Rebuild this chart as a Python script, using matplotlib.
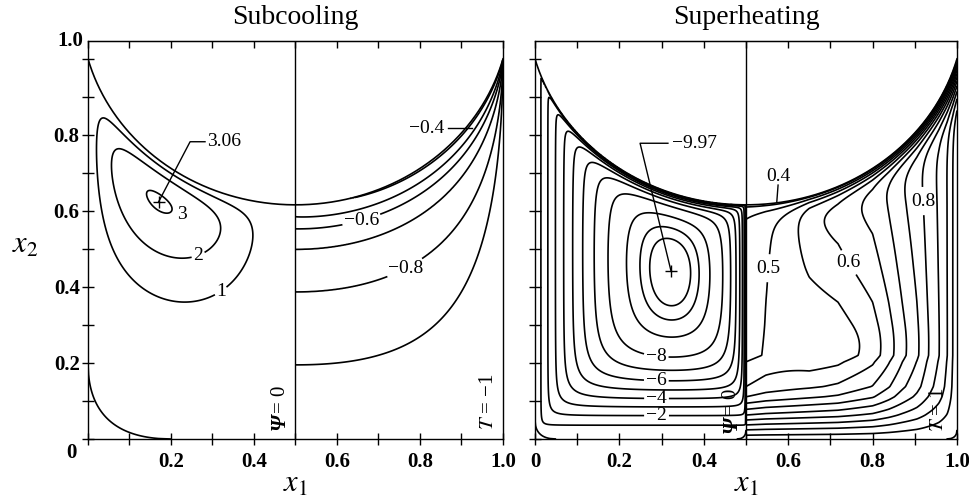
import numpy as np
import matplotlib.pyplot as plt

plt.rcParams['font.family'] = ['Liberation Serif', 'DejaVu Serif']
plt.rcParams['mathtext.fontset'] = 'stix'
plt.rcParams['contour.negative_linestyle'] = 'solid'

titles = ['Subcooling', 'Superheating']
tick_pos = [0.0, 0.1, 0.2, 0.3, 0.4, 0.5, 0.6, 0.7, 0.8, 0.9, 1.0]
x_labels = ['0', '', '0.2', '', '0.4', '', '0.6', '', '0.8', '', '1.0']
y_labels = ['', '', '0.2', '', '0.4', '', '0.6', '', '0.8', '', '']

# free surface: meets both walls at x2 = 1, lowest at mid-width
surf_wall_y = 1.0
surf_mid_y = 0.616
frame_top = 1.047

# subcooling
sub_psi_levels = [1, 2, 3]
sub_psi_max = 3.06
sub_psi_depth = 0.089          # cell centre below the surface
sub_psi_labels = {1: (0.334, 0.366), 2: (0.27, 0.471)}
sub_T_levels = [-0.9, -0.8, -0.7, -0.6, -0.5, -0.4]
sub_T_axis_y = [0.0, 0.195, 0.387, 0.499, 0.553, 0.585, 0.616]   # T along x1 = 0.5
sub_T_axis_val = [-1.0, -0.9, -0.8, -0.7, -0.6, -0.5, -0.45]
sub_T_surf_end = -0.35
sub_T_labels = {-0.6: (0.66, 0.572), -0.8: (0.768, 0.44)}
sub_eddy = (0.2, 0.2)          # separation points on bottom / wall

# superheating
sup_psi_levels = [-9.75, -9.5, -9, -8, -7, -6, -5, -4, -3, -2, -1]
sup_psi_min = -9.97
sup_psi_labels = {-8: (0.288, 0.225), -6: (0.288, 0.173), -4: (0.288, 0.116), -2: (0.288, 0.072)}
sup_T_levels = [0.4, 0.45, 0.5, 0.55, 0.6, 0.65, 0.7, 0.75, 0.8, 0.85, 0.9, 0.95]
sup_T_axis_y = [0.0, 0.01, 0.024, 0.037, 0.05, 0.063, 0.078, 0.094, 0.111, 0.138,
                0.203, 0.22, 0.3, 0.45, 0.616]
sup_T_axis_val = [0.97, 0.95, 0.9, 0.85, 0.8, 0.75, 0.7, 0.65, 0.6, 0.55,
                  0.5, 0.48, 0.476, 0.47, 0.46]
sup_T_mid_y = 0.36             # crossings read along x2 = 0.36
sup_T_mid_val = [0.5, 0.55, 0.6, 0.65, 0.7, 0.75, 0.8, 0.85, 0.9, 0.95]
sup_T_mid_x = [0.547, 0.718, 0.80, 0.838, 0.87, 0.905, 0.93, 0.957, 0.977, 0.99]
sup_T_surface = 0.38
sup_T_labels = {0.5: (0.545, 0.45), 0.6: (0.746, 0.466), 0.8: (0.889, 0.624)}
sup_eddies = [(0.0, 0.05, 0.05), (0.5, 0.022, 0.024), (1.0, 0.025, 0.024)]

cy = (0.25 + surf_wall_y**2 - surf_mid_y**2) / (2 * (surf_wall_y - surf_mid_y))
rad = cy - surf_mid_y


def surface(x):
    return cy - np.sqrt(rad**2 - (x - 0.5)**2)


def depth(x, y):
    return np.sqrt((x - 0.5)**2 + (y - cy)**2) - rad


def sub_psi(x, y):
    d = np.clip(depth(x, y), 0, None)
    f = x**0.8 * np.clip(0.5 - x, 0, None)**1.54
    g = (d / sub_psi_depth * np.exp(1 - d / sub_psi_depth))**0.9
    return f * g


def sub_T(x, y):
    eta = np.clip(y / surface(x), 0, 1)
    xi = np.clip((x - 0.5) / 0.5, 0, 1 - 1e-6)
    phi = (1 - np.sqrt(1 - xi))**2.4
    eta0 = np.clip((eta - phi) / (1 - phi), 0, 1)
    t = np.interp(eta0 * surf_mid_y, sub_T_axis_y, sub_T_axis_val)
    return t + (sub_T_surf_end - sub_T_axis_val[-1]) * np.sqrt(xi) * eta0**30


def sup_psi(x, y):
    a = (np.clip(x, 1e-6, None) / 0.26)**0.9
    b = (np.clip(0.5 - x, 1e-6, None) / 0.1243)**0.45
    c = (np.clip(y, 1e-6, None) / 0.267)**1.32
    e = np.sqrt(np.clip(depth(x, y), 1e-6, None) / 0.06)
    ab = (a**-1.6 + b**-1.6)**(-1 / 1.6)
    return (ab**-2.5 + c**-2.5 + e**-2.5)**(-1 / 2.5)


def sup_T(x, y):
    u = np.clip(1 - x, 0, 0.5)
    xi = 1 - u / 0.5
    tc_mid = np.interp(sup_T_mid_y, sup_T_axis_y, sup_T_axis_val)
    u_tab = np.concatenate([[0], (1 - np.array(sup_T_mid_x))[::-1], [0.5]])
    r_tab = np.concatenate([[0], ((1 - np.array(sup_T_mid_val)) / (1 - tc_mid))[::-1], [1]])
    r = np.interp(u, u_tab, r_tab)
    v = 1 - np.interp(y, sup_T_axis_y, sup_T_axis_val)
    ramp = np.clip((y - 0.1) / 0.2, 0, 1)
    ramp = ramp * ramp * (3 - 2 * ramp)
    tilt = 3.5 * xi * (1 - xi) * np.clip(xi / 0.3, 0, 1)**2
    w = np.exp(-tilt * (y - sup_T_mid_y) * ramp)
    t_in = 1 - r * v * w
    cold = np.exp(-np.clip(depth(x, y), 0, None) / 0.02)
    return t_in + (sup_T_surface - t_in) * cold


def corner(x, y, x0, wx, wy):
    return np.sqrt(np.abs(x - x0) / wx) + np.sqrt(y / wy)


def fmt_num(v):
    return ('%g' % v).replace('-', '\u2212')


lw = 1.2
lab = dict(fontsize=14)


def draw(ax, X, Y, Z, levels, labels):
    plain = [v for v in levels if v not in labels]
    ax.contour(X, Y, Z, levels=sorted(plain), colors='k', linewidths=lw)
    for v, pos in labels.items():
        cs = ax.contour(X, Y, Z, levels=[v], colors='k', linewidths=lw)
        txt = ax.clabel(cs, manual=[pos], inline=True, inline_spacing=2,
                        fmt={cs.levels[0]: fmt_num(v)}, **lab)
        for t in txt:
            t.set_rotation(0)


n = 400
yy = np.linspace(0, 1.0, 2 * n)
XL, YL = np.meshgrid(np.linspace(0, 0.5, n), yy)
XR, YR = np.meshgrid(np.linspace(0.5, 1.0, n), yy)
out_l = YL > surface(XL)
out_r = YR > surface(XR)

fig = plt.figure(figsize=(9.7, 4.98), dpi=100)
ax1 = fig.add_axes([88 / 970, 59 / 498, 415 / 970, 398 / 498])
ax2 = fig.add_axes([535 / 970, 59 / 498, 422 / 970, 398 / 498])

xs = np.linspace(0, 1, 500)
for k, ax in enumerate([ax1, ax2]):
    ax.set_xlim(0, 1)
    ax.set_ylim(0, frame_top)
    ax.plot(xs, surface(xs), color='k', lw=lw)
    ax.axvline(0.5, color='k', lw=1.0)
    ax.set_xticks(tick_pos)
    ax.set_yticks(tick_pos)
    ax.set_xticklabels(x_labels if k == 1 else [''] + x_labels[1:], fontsize=15,
                       fontweight='bold')
    ax.set_yticklabels(y_labels if k == 0 else [], fontsize=15, fontweight='bold')
    ax.tick_params(direction='inout', length=8, width=1, right=False)
    ax.tick_params(axis='x', pad=5)
    ax.tick_params(axis='y', pad=2)
    top = ax.secondary_xaxis('top')
    top.set_xticks(tick_pos)
    top.set_xticklabels([])
    top.tick_params(direction='in', length=5, width=1)
    for sp in ax.spines.values():
        sp.set_linewidth(1.0)
    ax.set_title(titles[k], fontsize=20, pad=12)
    ax.text(0.5, -0.115, '$x_1$', transform=ax.transAxes, fontsize=22,
            ha='center', va='center')

ax1.text(-0.152, 0.487, '$x_2$', transform=ax1.transAxes, fontsize=22,
         ha='center', va='center')
ax1.text(-0.039, -0.037, '0', fontsize=15, fontweight='bold', ha='center', va='center')
ax1.text(-0.012, frame_top, '1.0', fontsize=15, fontweight='bold', ha='right', va='center')

# ---- subcooling ----
P = sub_psi(XL, YL)
P = np.ma.masked_where(out_l, P / P[~out_l].max() * sub_psi_max)
draw(ax1, XL, YL, P, sub_psi_levels, sub_psi_labels)
ax1.text(0.226, 0.59, '3', ha='center', va='center', **lab)
iy, ix = np.unravel_index(np.argmax(P), P.shape)
px, py = XL[iy, ix], YL[iy, ix]
ax1.plot(px, py, marker='+', ms=9, color='k', mew=1)
ax1.plot([px, 0.246, 0.282], [py, 0.782, 0.782], color='k', lw=1)
ax1.text(0.287, 0.782, fmt_num(sub_psi_max), ha='left', va='center', **lab)

E = corner(XL, YL, 0.0, *sub_eddy)
ax1.contour(XL, YL, E, levels=[1], colors='k', linewidths=lw)

T = np.ma.masked_where(out_r, sub_T(XR, YR))
draw(ax1, XR, YR, T, sub_T_levels, sub_T_labels)
ax1.text(0.817, 0.818, '\u22120.4', ha='center', va='center', **lab)
ax1.plot([0.868, 0.925], [0.818, 0.818], color='k', lw=1)

ax1.text(0.463, 0.024, '\u03a8', rotation=90, rotation_mode='anchor', ha='left',
         va='center', fontsize=15, fontweight='bold', fontstyle='italic')
ax1.text(0.463, 0.068, '= 0', rotation=90, rotation_mode='anchor', ha='left',
         va='center', fontsize=15)
ax1.text(0.964, 0.024, '$T$ = \u22121', rotation=90, rotation_mode='anchor',
         ha='left', va='center', fontsize=15)

# ---- superheating ----
Q = sup_psi(XL, YL)
Q = np.ma.masked_where(out_l, Q / Q[~out_l].max() * sup_psi_min)
draw(ax2, XL, YL, Q, sup_psi_levels, sup_psi_labels)
iy, ix = np.unravel_index(np.argmin(Q), Q.shape)
qx, qy = XL[iy, ix], YL[iy, ix]
ax2.plot(qx, qy, marker='+', ms=9, color='k', mew=1)
ax2.plot([qx, 0.249, 0.315], [qy, 0.778, 0.778], color='k', lw=1)
ax2.text(0.325, 0.778, fmt_num(sup_psi_min), ha='left', va='center', **lab)

for x0, wx, wy in sup_eddies:
    G, H = (XL, YL) if x0 < 1 else (XR, YR)
    ax2.contour(G, H, corner(G, H, x0, wx, wy), levels=[1], colors='k', linewidths=lw)

S = np.ma.masked_where(out_r, sup_T(XR, YR))
draw(ax2, XR, YR, S, sup_T_levels, sup_T_labels)
ax2.text(0.576, 0.69, '0.4', ha='center', va='center', **lab)
ax2.plot([0.576, 0.573], [0.668, 0.624], color='k', lw=1)

ax2.text(0.466, 0.016, '\u03a8', rotation=90, rotation_mode='anchor', ha='left',
         va='center', fontsize=15, fontweight='bold', fontstyle='italic')
ax2.text(0.466, 0.06, '= 0', rotation=90, rotation_mode='anchor', ha='left',
         va='center', fontsize=15)
ax2.text(0.955, 0.018, '$T$ = 1', rotation=90, rotation_mode='anchor',
         ha='left', va='center', fontsize=15)

fig.savefig('out.png', dpi=100)
